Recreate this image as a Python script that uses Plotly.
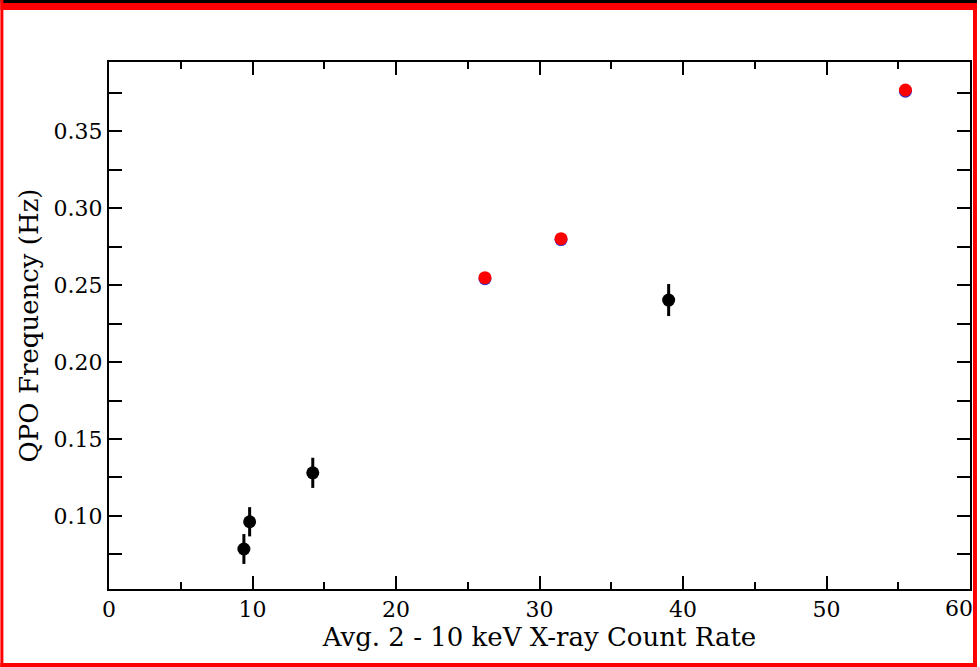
import plotly.graph_objects as go

# Black points (with error bars)
black_x = [9.4, 9.8, 14.2, 39.0]
black_y = [0.0785, 0.0962, 0.128, 0.2403]
black_err = [0.0097, 0.0095, 0.0098, 0.0104]

# Red points (blue underneath)
red_x = [26.2, 31.5, 55.5]
red_y = [0.2548, 0.2802, 0.3768]
blue_x = [26.2, 31.5, 55.5]
blue_y = [0.2542, 0.2796, 0.3760]

x_range = [0, 60]
y_range = [0.0525, 0.395]
x_ticks = [0, 10, 20, 30, 40, 50, 60]
x_ticklabels = ["0", "10", "20", "30", "40", "50", ""]
x_last_tick = [60]
x_last_label = ["60"]

FONT = "DejaVu Serif"

fig = go.Figure()
fig.add_trace(go.Scatter(
    x=black_x, y=black_y, mode="markers",
    marker=dict(color="black", size=13),
    error_y=dict(type="data", array=black_err, color="black", thickness=3, width=0),
    showlegend=False))
fig.add_trace(go.Scatter(
    x=blue_x, y=blue_y, mode="markers", xaxis="x2",
    marker=dict(color="#3030d0", size=13), showlegend=False))
fig.add_trace(go.Scatter(
    x=red_x, y=red_y, mode="markers", xaxis="x2",
    marker=dict(color="#ff0000", size=13), showlegend=False))

tickfont = dict(family=FONT, size=22, color="black")
axis_common = dict(
    showline=True, linecolor="black", linewidth=2, mirror="allticks",
    ticks="inside", tickcolor="black", tickwidth=2, ticklen=13,
    showgrid=False, zeroline=False, tickfont=tickfont,
)

fig.update_layout(
    xaxis=dict(
        range=x_range, tickmode="array", tickvals=x_ticks, ticktext=x_ticklabels,
        minor=dict(dtick=5, tick0=0, ticks="inside", ticklen=7, tickwidth=2, tickcolor="black", showgrid=False),
        title=dict(text="Avg. 2 - 10 keV X-ray Count Rate", font=dict(family=FONT, size=26, color="black"), standoff=5),
        **axis_common),
    xaxis2=dict(
        range=x_range, overlaying="x", matches="x", side="bottom",
        tickmode="array", tickvals=x_last_tick, ticktext=x_last_label,
        ticks="", showline=False, showgrid=False, zeroline=False,
        tickfont=tickfont, ticklabelshift=-11, ticklabelstandoff=4),
    yaxis=dict(
        range=y_range, dtick=0.05, tick0=0.1, tickformat=".2f",
        minor=dict(dtick=0.025, ticks="inside", ticklen=7, tickwidth=2, tickcolor="black", showgrid=False),
        title=dict(text="QPO Frequency (Hz)", font=dict(family=FONT, size=26, color="black"), standoff=8),
        **axis_common),
)

W, H = 980, 667
L, R, T, B = 109, 7, 62, 78
pw, ph = W - L - R, H - T - B

def px_to_paper_x(px):
    return (px - L) / pw

def px_to_paper_y(py):
    return 1 - (py - T) / ph

shapes = []
def rect(x0, y0, x1, y1, color):
    shapes.append(dict(type="rect", xref="paper", yref="paper", layer="above",
                       x0=px_to_paper_x(x0), x1=px_to_paper_x(x1),
                       y0=px_to_paper_y(y1), y1=px_to_paper_y(y0),
                       line=dict(width=0), fillcolor=color))

rect(0, 3, W, 10, "#ff0000")
rect(0, 0, W, 3, "#000000")
rect(0, 0, 3, H, "#ff0000")
rect(976, 3, W, H, "#ff0000")
rect(0, 663, W, H, "#ff0000")

fig.update_layout(
    width=W, height=H, autosize=False,
    margin=dict(l=L, r=R, t=T, b=B),
    plot_bgcolor="white", paper_bgcolor="white",
    shapes=shapes,
)

post = """
document.documentElement.style.overflow='hidden';
document.body.style.margin='0';
document.body.style.overflow='hidden';
"""

fig.write_html("out.html", config={"displayModeBar": False, "responsive": False},
               post_script=post)
